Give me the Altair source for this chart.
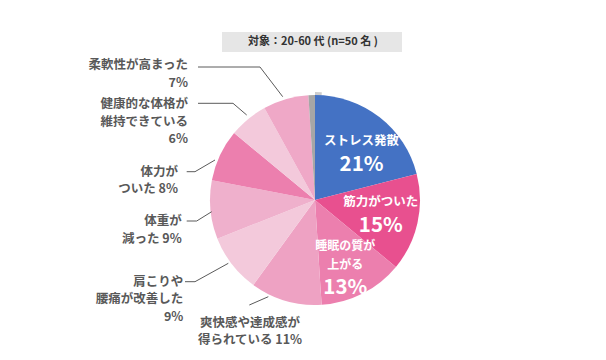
import altair as alt
import pandas as pd

# ---- data ----
categories = ["ストレス発散", "筋力がついた", "睡眠の質が上がる", "爽快感や達成感が得られている",
              "肩こりや腰痛が改善した", "体重が減った", "体力がついた",
              "健康的な体格が維持できている", "柔軟性が高まった", "その他"]
values = [21, 15, 13, 11, 9, 9, 8, 6, 7, 1]
colors = ["#4472C4", "#E8508F", "#EC7FAE", "#EEA2C3", "#F3C9DB",
          "#EFB0CC", "#EC7FAE", "#F3C9DB", "#EFA8C7", "#A6A6A6"]
title_text = "対象：20-60 代 (n=50 名 )"

# label line breaks (text), percent appended from values
outer_lines = {
    8: ["柔軟性が高まった", "{p}"],
    7: ["健康的な体格が", "維持できている", "{p}"],
    6: ["体力が", "ついた {p}"],
    5: ["体重が", "減った {p}"],
    4: ["肩こりや", "腰痛が改善した", "{p}"],
    3: ["爽快感や達成感が", "得られている {p}"],
}
inner_lines = {
    0: ["ストレス発散", "{p}"],
    1: ["筋力がついた", "{p}"],
    2: ["睡眠の質が", "上がる", "{p}"],
}

# ---- layout (positions / styles, chart pixel coordinates) ----
CX, CY = 307, 192
R_OUT, R_RING = 105, 108
outer_layout = {  # x, first line y, line step, align
    8: (180, 57, 18, "right"),
    7: (180, 96, 17.5, "right"),
    6: (170, 163.7, 17.6, "right"),
    5: (173.7, 213, 18.3, "right"),
    4: (175.3, 273.7, 17.5, "right"),
    3: (242, 314.5, 17.8, "center"),
}
inner_layout = {  # x, list of y, list of sizes
    0: (353.5, [133, 157], [12.5, 20.5]),
    1: (372.8, [194, 218], [12.5, 20.5]),
    2: (337.3, [238, 256.5, 279.5], [12, 12, 20.5]),
}
leaders = {
    8: [(190, 59), (252, 59), (274.7, 88.7)],
    7: [(190, 95.3), (225, 95.3), (238.7, 107)],
    6: [(178.7, 163.7), (187, 163.7), (207, 152)],
    5: [(178.7, 213), (188.7, 213), (203.7, 203.7)],
    4: [(177, 273.7), (187, 273.7), (220.3, 255.3)],
    3: [(241.3, 297), (260.3, 288.7)],
}

FONT = "Noto Sans CJK JP"

pie_df = pd.DataFrame({"cat": categories, "v": values, "idx": list(range(len(values)))})

rows = []
for i, lines in outer_lines.items():
    x, y0, step, align = outer_layout[i]
    for k, ln in enumerate(lines):
        rows.append({"x": x, "y": y0 + k * step, "t": ln.format(p=f"{values[i]}%"), "align": align})
outer_df = pd.DataFrame(rows)

rows = []
for i, lines in inner_lines.items():
    x, ys, sizes = inner_layout[i]
    for k, ln in enumerate(lines):
        rows.append({"x": x, "y": ys[k], "t": ln.format(p=f"{values[i]}%"), "s": sizes[k]})
inner_df = pd.DataFrame(rows)

rows = []
for i, pts in leaders.items():
    for k, (x, y) in enumerate(pts):
        rows.append({"g": i, "k": k, "x": x, "y": y})
lead_df = pd.DataFrame(rows)

ring = alt.Chart(pd.DataFrame({"v": [1]})).mark_arc(radius=R_RING, color="#CDCDCD").encode(
    theta="v:Q", x=alt.value(CX), y=alt.value(CY))

pie = alt.Chart(pie_df).mark_arc(radius=R_OUT).encode(
    theta=alt.Theta("v:Q", stack=True),
    order=alt.Order("idx:Q"),
    color=alt.Color("cat:N", scale=alt.Scale(domain=categories, range=colors), legend=None),
    x=alt.value(CX), y=alt.value(CY))

lead = alt.Chart(lead_df).mark_line(color="#5A5A5A", strokeWidth=1).encode(
    x=alt.X("x:Q", scale=None), y=alt.Y("y:Q", scale=None),
    detail="g:N", order="k:Q")

outer_r = alt.Chart(outer_df[outer_df["align"] == "right"]).mark_text(
    align="right", baseline="middle", font=FONT, fontSize=12.5, fontWeight="bold", color="#595959").encode(
    x=alt.X("x:Q", scale=None), y=alt.Y("y:Q", scale=None), text="t:N")
outer_c = alt.Chart(outer_df[outer_df["align"] == "center"]).mark_text(
    align="center", baseline="middle", font=FONT, fontSize=12.5, fontWeight="bold", color="#595959").encode(
    x=alt.X("x:Q", scale=None), y=alt.Y("y:Q", scale=None), text="t:N")

inner = alt.Chart(inner_df).mark_text(
    align="center", baseline="middle", font=FONT, fontWeight="bold", color="white").encode(
    x=alt.X("x:Q", scale=None), y=alt.Y("y:Q", scale=None), text="t:N",
    size=alt.Size("s:Q", scale=None))

box = alt.Chart(pd.DataFrame({"t": [title_text]})).mark_rect(color="#E6E6E6").encode(
    x=alt.value(214), x2=alt.value(394), y=alt.value(24), y2=alt.value(44))
box_t = alt.Chart(pd.DataFrame({"t": [title_text]})).mark_text(
    font=FONT, fontSize=11, fontWeight="bold", color="#333333", baseline="middle").encode(
    x=alt.value(305), y=alt.value(34), text="t:N")

chart = alt.layer(box, box_t, ring, pie, lead, outer_r, outer_c, inner).properties(
    width=590, height=344, autosize=alt.AutoSizeParams(type="none"), padding=0
).configure_view(stroke=None)

chart.save("out.html", embed_options={"renderer": "svg", "actions": False})
